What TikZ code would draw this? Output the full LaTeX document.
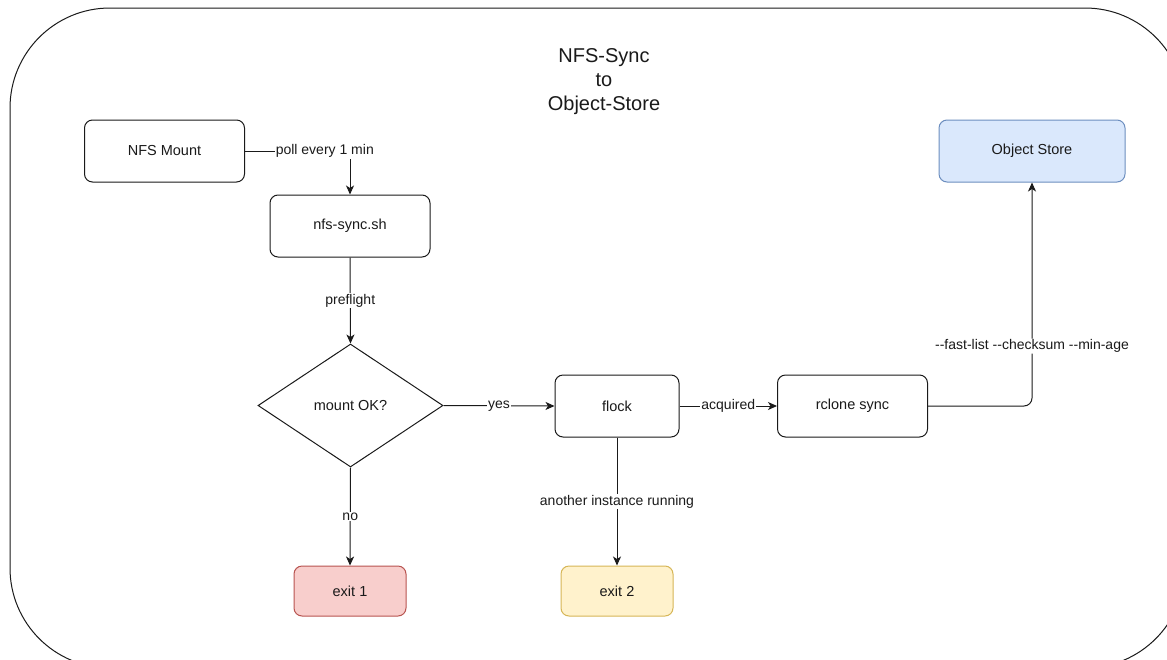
\documentclass[tikz,border=0pt]{standalone}
\usepackage{fontspec}
\setmainfont{Liberation Sans}
\usetikzlibrary{shapes.geometric,arrows.meta}

\definecolor{redfill}{HTML}{F8CECC}
\definecolor{redline}{HTML}{B85450}
\definecolor{yelfill}{HTML}{FFF2CC}
\definecolor{yelline}{HTML}{D6B656}
\definecolor{bluefill}{HTML}{DAE8FC}
\definecolor{blueline}{HTML}{6C8EBF}
\definecolor{ink}{HTML}{1A1A1A}

% two plain hyphens, kept apart so they are not joined into a dash
\newcommand\dblhyph{\mbox{-}\mbox{-}}

\tikzset{
  stepbox/.style={draw=ink, line width=1pt, rounded corners=8pt, inner sep=0pt,
    minimum height=62pt, text=ink, font=\fontsize{14.5}{17}\selectfont},
  exitbox/.style={stepbox, minimum width=112pt, minimum height=50pt},
  decision/.style={draw=ink, line width=1pt, shape=diamond, inner sep=0pt,
    minimum width=185pt, minimum height=123pt, text=ink, font=\fontsize{14.5}{17}\selectfont},
  conn/.style={draw=ink, line width=1pt, -{Stealth[length=9pt,width=8pt,inset=2.5pt]}},
  lbl/.style={fill=white, inner sep=1pt, text=ink, font=\fontsize{14}{16}\selectfont},
}

\begin{document}
\begin{tikzpicture}[x=1pt,y=-1pt]
  \useasboundingbox (0,0) rectangle (1167,659);
  \clip (0,0) rectangle (1167,659);
  \fill[white] (0,0) rectangle (1167,659);

  % container frame
  \draw[ink, line width=1pt, rounded corners=100pt] (10,8) rectangle (1185,668);

  % title
  \node[align=center, text=ink, font=\fontsize{20}{24}\selectfont] (title) at (604,82)
    {NFS-Sync\\to\\Object-Store};

  % nodes
  \node[stepbox, minimum width=160pt] (nfs)   at (164.5,151) {NFS Mount};
  \node[stepbox, minimum width=160pt] (sync)  at (350,226)   {nfs-sync.sh};
  \node[decision]                     (chk)   at (350.5,405.5) {mount OK?};
  \node[stepbox, minimum width=124pt] (flock) at (617,406)   {flock};
  \node[stepbox, minimum width=150pt] (rcl)   at (852.5,406) {rclone sync};
  \node[stepbox, minimum width=186pt, fill=bluefill, draw=blueline] (obj) at (1032,151) {Object Store};
  \node[exitbox, fill=redfill, draw=redline] (ex1) at (350,591) {exit 1};
  \node[exitbox, fill=yelfill, draw=yelline] (ex2) at (617,591) {exit 2};

  % connectors
  \draw[conn] (nfs.east) -| node[lbl, pos=0.38] {poll every 1 min} (sync.north);
  \draw[conn] (sync.south) -- node[lbl] {preflight} (chk.north);
  \draw[conn] (chk.east) -- node[lbl] {yes} (flock.west);
  \draw[conn] (chk.south) -- node[lbl] {no} (ex1.north);
  \draw[conn] (flock.south) -- node[lbl, pos=0.5] {another instance running} (ex2.north);
  \draw[conn] (flock.east) -- node[lbl] {acquired} (rcl.west);
  \draw[conn, rounded corners=8pt] (rcl.east) -| node[lbl, pos=0.634]
    {\dblhyph fast-list \dblhyph checksum \dblhyph min-age} (obj.south);
\end{tikzpicture}
\end{document}
